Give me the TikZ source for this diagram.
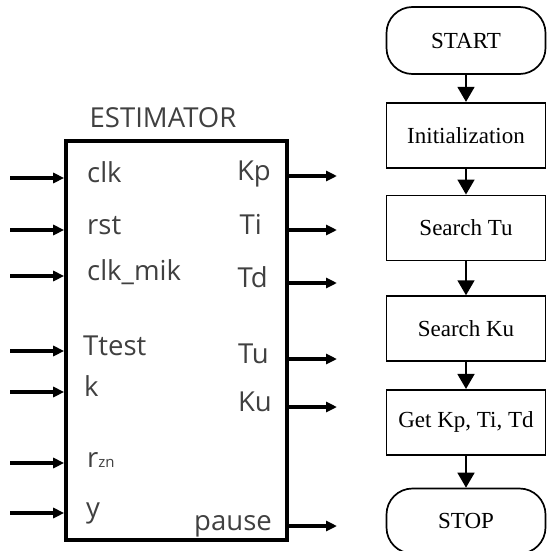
\documentclass[tikz,border=0pt]{standalone}
\usepackage{fontspec}
\setmainfont{Liberation Serif}
\newfontfamily\blockfont{Open Sans}
\usetikzlibrary{arrows.meta, positioning}

\begin{document}
\begin{tikzpicture}[x=1pt, y=-1pt,
    pin/.style={-{Triangle[length=11pt,width=10pt]}, line width=3.2pt},
    flow/.style={-{Triangle[length=15pt,width=17pt]}, line width=1.7pt},
    sig/.style={font=\blockfont\fontsize{27.5}{30}\selectfont, text=black!75, inner sep=0pt},
    stepbox/.style={draw, line width=1.7pt, minimum width=159pt, minimum height=65pt,
      inner sep=0pt, font=\fontsize{23}{26}\selectfont},
    terminal/.style={stepbox, rounded corners=26pt, minimum height=67pt}]
  \useasboundingbox (0,0) rectangle (546,551);

  % Bloque del estimador
  \node[draw, line width=3.6pt, minimum width=221pt, minimum height=399pt, inner sep=0pt] (est) at (176.5,340.5) {};
  \node[sig, anchor=base] (title) at (163,127) {ESTIMATOR};

  % Entradas
  \foreach \txt/\y/\lx [count=\i] in {clk/178/87, rst/230/87, clk\_mik/276/87, Ttest/351/83,
      k/392/84, {r{\fontsize{15}{15}\selectfont zn}}/463/87, y/513/86} {
    \coordinate (in\i) at (10,\y);
    \draw[pin] (in\i) -- (in\i -| est.west);
    \node[sig, anchor=mid west] (lin\i) at (\lx,\y+2) {\txt};
  }

  % Salidas
  \foreach \txt/\y/\lx [count=\i] in {Kp/176/271, Ti/230/262, Td/283/268, Tu/359/269,
      Ku/407/272, pause/526/272} {
    \coordinate (out\i) at (337,\y);
    \draw[pin] (out\i -| est.east) -- (out\i);
    \node[sig, anchor=mid east] (lout\i) at (\lx,\y+2) {\txt};
  }

  % Diagrama de flujo
  \node[terminal] (start) at (466,40.5) {START};
  \node[stepbox, below=27pt of start] (init) {Initialization};
  \node[stepbox, below=26pt of init] (searchtu) {Search Tu};
  \node[stepbox, below=34pt of searchtu] (searchku) {Search Ku};
  \node[stepbox, below=27pt of searchku] (getk) {Get Kp, Ti, Td};
  \node[terminal, below=32pt of getk, minimum height=65pt] (stop) {STOP};

  \draw[flow] (start) -- (init);
  \draw[flow] (init) -- (searchtu);
  \draw[flow] (searchtu) -- (searchku);
  \draw[flow] (searchku) -- (getk);
  \draw[flow] (getk) -- (stop);
\end{tikzpicture}
\end{document}
